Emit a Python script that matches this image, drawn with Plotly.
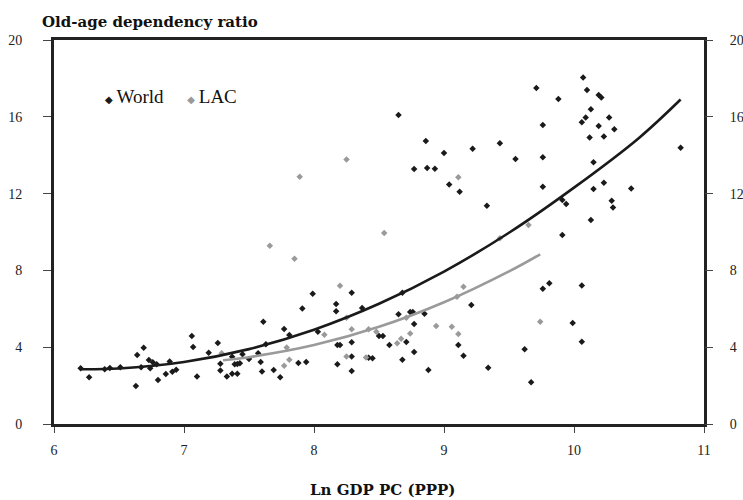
import plotly.graph_objects as go

# ---- data ----
world_x = [6.205, 6.27, 6.39, 6.43, 6.51, 6.63, 6.64, 6.69, 6.67, 6.73, 6.74, 6.76, 6.79, 6.80, 6.86,
           6.89, 6.91, 6.94, 7.06, 7.07, 7.10, 7.19, 7.26, 7.28, 7.28, 7.33, 7.37, 7.41, 7.37, 7.39,
           7.41, 7.43, 7.45, 7.50, 7.57, 7.59, 7.60, 7.61, 7.63, 7.69, 7.74, 7.77, 7.81, 7.88, 7.94,
           7.91, 7.99, 8.03, 8.17, 8.17, 8.29, 8.37, 8.18, 8.20, 8.29, 8.18, 8.29, 8.29, 8.42, 8.45,
           8.50, 8.53, 8.58, 8.71, 8.77, 8.65, 8.74, 8.76, 8.68, 8.85, 8.68, 8.77, 8.88, 8.65, 8.86,
           8.77, 8.87, 8.93, 9.00, 9.04, 9.12, 9.22, 9.33, 9.43, 9.55, 9.71, 9.76, 9.76, 9.76, 9.88,
           9.91, 9.94, 9.91, 10.07, 10.10, 10.19, 10.21, 10.13, 10.09, 10.06, 10.27, 10.19, 10.31, 10.23,
           10.12, 10.15, 10.23, 10.15, 10.44, 10.29, 10.30, 10.13, 10.82, 9.21, 9.76, 9.81, 10.06, 9.11,
           9.15, 9.99, 10.06, 9.62, 9.34, 9.67]
world_y = [2.90, 2.43, 2.85, 2.92, 2.95, 1.98, 3.59, 3.97, 2.95, 3.33, 2.90, 3.21, 3.11, 2.29, 2.60,
           3.25, 2.72, 2.83, 4.58, 4.01, 2.47, 3.71, 4.22, 3.14, 2.78, 2.48, 2.62, 2.62, 3.50, 3.11,
           3.13, 3.16, 3.63, 3.39, 3.68, 3.23, 2.74, 5.33, 4.15, 2.81, 2.43, 4.95, 4.64, 3.18, 3.23,
           6.02, 6.79, 4.81, 6.25, 5.87, 6.84, 6.04, 4.11, 4.11, 4.26, 3.11, 3.51, 2.76, 3.45, 3.42,
           4.58, 4.58, 4.11, 4.27, 5.21, 5.71, 5.83, 5.83, 6.84, 5.74, 3.35, 3.75, 2.81, 16.09, 14.74,
           13.28, 13.33, 13.30, 14.11, 12.47, 12.10, 14.34, 11.37, 14.62, 13.80, 17.50, 15.57, 13.89, 12.36, 16.93,
           11.67, 11.46, 9.84, 18.05, 17.40, 17.14, 17.00, 16.39, 15.96, 15.71, 15.97, 15.52, 15.35, 14.97,
           14.92, 13.63, 12.57, 12.24, 12.27, 11.63, 11.28, 10.62, 14.39, 6.20, 7.05, 7.33, 7.22, 4.11,
           3.56, 5.26, 4.29, 3.89, 2.93, 2.17]

lac_x = [7.29, 7.66, 7.77, 7.79, 7.81, 7.85, 7.89, 8.08, 8.20, 8.25, 8.25, 8.25, 8.29, 8.40, 8.42,
         8.48, 8.54, 8.64, 8.67, 8.71, 8.74, 8.94, 9.06, 9.11, 9.10, 9.15, 9.11, 9.43, 9.65, 9.74]
lac_y = [3.68, 9.29, 3.04, 3.99, 3.35, 8.61, 12.88, 4.65, 7.20, 13.78, 5.54, 3.52, 4.93, 3.47, 4.93,
         4.81, 9.95, 4.20, 4.44, 5.54, 4.72, 5.10, 5.07, 4.69, 6.63, 7.15, 12.85, 9.67, 10.36, 5.33]

# trend lines
world_trend_x = [6.2, 6.5, 7.0, 7.5, 8.0, 8.5, 9.0, 9.5, 10.0, 10.5, 10.82]
world_trend_y = [2.85, 2.89, 3.23, 3.90, 4.91, 6.26, 7.94, 9.96, 12.31, 14.9, 16.9]
lac_trend_x = [7.3, 7.5, 8.0, 8.5, 9.0, 9.5, 9.74]
lac_trend_y = [3.32, 3.48, 4.11, 5.06, 6.34, 7.95, 8.84]

y_ticks = [0, 4, 8, 12, 16, 20]
x_ticks = [6, 7, 8, 9, 10, 11]

title_text = "Old-age dependency ratio"
x_title = "Ln GDP PC (PPP)"

BLACK = "#1a1a1a"
GRAY = "#9a9a9a"
FONT = "'Liberation Serif', 'DejaVu Serif', serif"
BOLD_FONT = "'DejaVu Serif', serif"

fig = go.Figure()
fig.add_trace(go.Scatter(x=world_x, y=world_y, mode="markers", name="World",
                         marker=dict(symbol="diamond", size=5, color=BLACK), showlegend=False))
fig.add_trace(go.Scatter(x=lac_x, y=lac_y, mode="markers", name="LAC",
                         marker=dict(symbol="diamond", size=5, color=GRAY), showlegend=False))
fig.add_trace(go.Scatter(x=world_trend_x, y=world_trend_y, mode="lines",
                         line=dict(color=BLACK, width=2.6, shape="spline"), showlegend=False,
                         hoverinfo="skip"))
fig.add_trace(go.Scatter(x=lac_trend_x, y=lac_trend_y, mode="lines",
                         line=dict(color=GRAY, width=2.6, shape="spline"), showlegend=False,
                         hoverinfo="skip"))
fig.add_trace(go.Scatter(x=[None], y=[None], yaxis="y2", showlegend=False, hoverinfo="skip"))

axis_font = dict(family=FONT, size=14, color="#222")

fig.update_layout(
    width=743, height=500,
    font=dict(family=FONT),
    margin=dict(l=54, r=39, t=40, b=76, autoexpand=False),
    paper_bgcolor="white", plot_bgcolor="white",
    xaxis=dict(range=[6, 11], tickvals=x_ticks, showgrid=False, zeroline=False,
               showline=True, mirror=True, linewidth=3, linecolor="#222",
               ticks="outside", ticklen=6, tickwidth=1, tickcolor="#444",
               tickfont=axis_font, ticklabelstandoff=5),
    yaxis=dict(range=[0, 20], tickvals=y_ticks, showgrid=False, zeroline=False,
               showline=True, mirror=True, linewidth=3, linecolor="#222",
               ticks="outside", ticklen=8, tickwidth=1, tickcolor="#444",
               tickfont=axis_font, ticklabelstandoff=18),
    yaxis2=dict(range=[0, 20], tickvals=y_ticks, overlaying="y", side="right",
                showgrid=False, zeroline=False, showline=False,
                ticks="outside", ticklen=8, tickwidth=1, tickcolor="#444",
                tickfont=axis_font, ticklabelstandoff=14),
    showlegend=False,
)

fig.add_annotation(text="<b>" + title_text + "</b>", xref="paper", yref="paper",
                   x=-0.022, y=1.047, xanchor="left", yanchor="middle", showarrow=False,
                   font=dict(family=BOLD_FONT, size=15, color="#111"))
fig.add_annotation(text="<b>" + x_title + "</b>", xref="paper", yref="paper",
                   x=0.505, y=-0.172, xanchor="center", yanchor="middle", showarrow=False,
                   font=dict(family=BOLD_FONT, size=15, color="#111"))
legend_text = ('<span style="color:%s;font-size:10px">◆</span>&#8201;World&nbsp;&nbsp;&nbsp;&nbsp;&nbsp;'
               '<span style="color:%s;font-size:10px">◆</span>&#8201;LAC') % (BLACK, GRAY)
fig.add_annotation(text=legend_text, xref="paper", yref="paper",
                   x=0.075, y=0.852, xanchor="left", yanchor="middle", showarrow=False,
                   font=dict(family=FONT, size=19, color="#111"))

fig.write_html("out.html")
